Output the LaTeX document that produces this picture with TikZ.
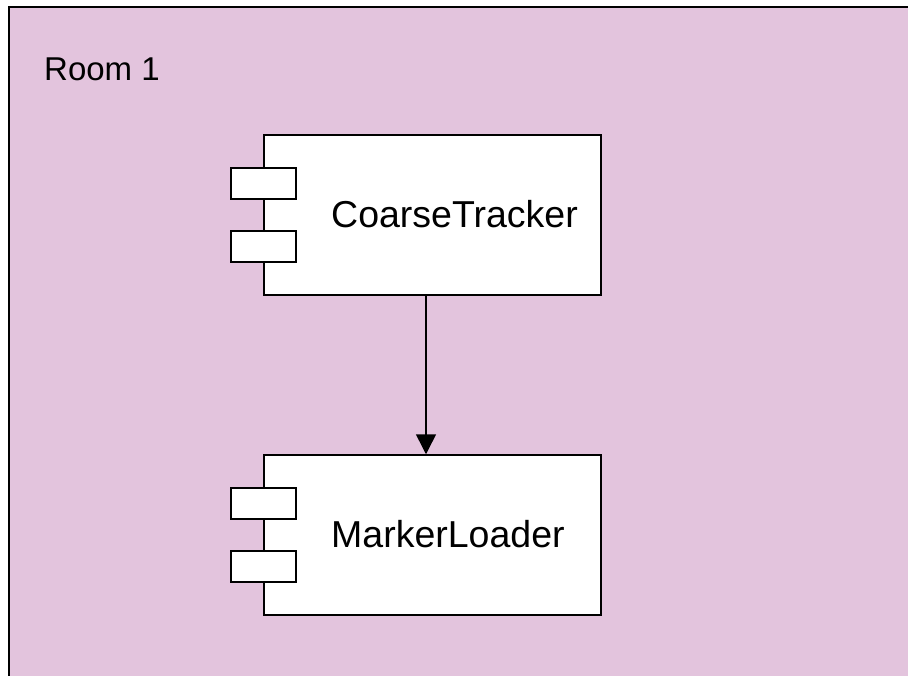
\documentclass[tikz,border=0pt]{standalone}
\usepackage{fontspec}
\setmainfont{Liberation Sans}
\usetikzlibrary{arrows.meta}

\definecolor{roomfill}{RGB}{227,196,221}

\tikzset{
    comp/.style={draw,fill=white,line width=1.5pt,minimum width=337pt,minimum height=160pt,inner sep=0pt},
    port/.style={draw,fill=white,line width=1.5pt,minimum width=65pt,minimum height=31pt,inner sep=0pt},
    roomname/.style={anchor=base west,inner sep=0pt,font=\fontsize{33}{40}\selectfont},
    compname/.style={anchor=base west,inner sep=0pt,font=\fontsize{37.5}{44}\selectfont}
}

\begin{document}
\begin{tikzpicture}[
            x=1pt,y=-1pt
        ]
            \useasboundingbox (0,0) rectangle (908,675);

            % room
            \fill [roomfill] (9,7) rectangle (915,685);
            \draw [line width=2pt] (9,685) -- (9,7) -- (915,7);
            \node [roomname] (roomlabel) at (44,80) {Room 1};

            % components
            \node [comp] (ct) at (432.5,215) {};
            \node [comp] (ml) at (432.5,535) {};

            \draw [line width=1.5pt,-{Triangle[width=20pt,length=20pt]}] ([xshift=-6.5pt]ct.south) -- ([xshift=-6.5pt]ml.north);

            \foreach \c in {ct,ml} {
                \node [port] (\c p1) at ([yshift=31.5pt]\c.west) {};
                \node [port] (\c p2) at ([yshift=-31.5pt]\c.west) {};
            }

            \node [compname] (ctname) at (331,227) {CoarseTracker};
            \node [compname] (mlname) at (331,547) {MarkerLoader};
        \end{tikzpicture}
\end{document}
